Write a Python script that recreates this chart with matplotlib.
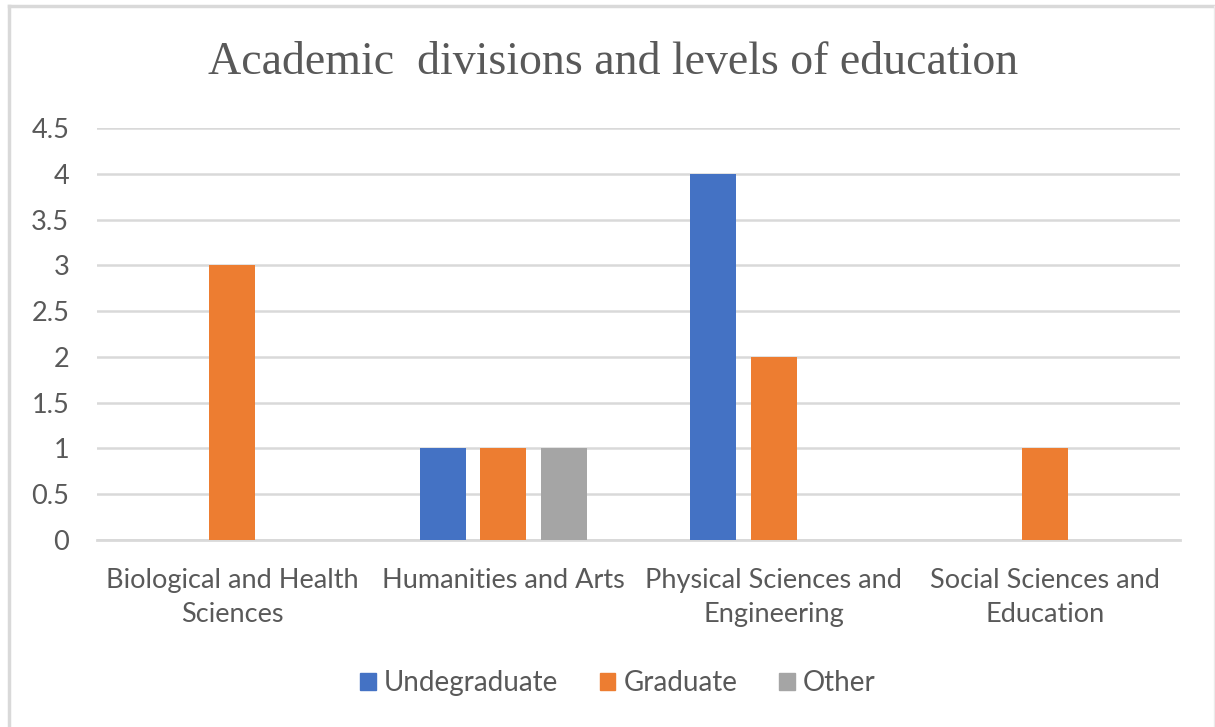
import numpy as np
import matplotlib.pyplot as plt
from matplotlib.lines import Line2D

categories = ['Biological and Health\nSciences', 'Humanities and Arts',
              'Physical Sciences and\nEngineering', 'Social Sciences and\nEducation']
series_names = ['Undegraduate', 'Graduate', 'Other']
undergraduate = [0, 1, 4, 0]
graduate = [3, 1, 2, 1]
other = [0, 1, 0, 0]
colors = ['#4472C4', '#ED7D31', '#A5A5A5']

grid_color = '#D9D9D9'
text_color = '#595959'

fig = plt.figure(figsize=(12.15, 7.27), dpi=100)
ax = fig.add_axes([97 / 1215, 1 - 540 / 727, (1180 - 97) / 1215, (540 - 128) / 727])

x = np.arange(len(categories))
step = 0.2235
width = 0.17
for i, (vals, name) in enumerate(zip([undergraduate, graduate, other], series_names)):
    ax.bar(x + (i - 1) * step, vals, width=width, color=colors[i], label=name, zorder=3)

ax.set_xlim(-0.5, len(categories) - 0.5)
ax.set_ylim(0, 4.5)
ax.set_yticks(np.arange(0, 4.51, 0.5))
ax.set_yticklabels(['0', '0.5', '1', '1.5', '2', '2.5', '3', '3.5', '4', '4.5'])
ax.set_xticks(x)
ax.set_xticklabels(categories, linespacing=1.45)

ax.grid(axis='y', color=grid_color, linewidth=1.8, zorder=0)
for s in ['top', 'right', 'left']:
    ax.spines[s].set_visible(False)
ax.spines['bottom'].set_color(grid_color)
ax.spines['bottom'].set_linewidth(2)
ax.tick_params(length=0, labelcolor=text_color, labelsize=19.5)
ax.tick_params(axis='y', pad=20)
ax.tick_params(axis='x', pad=20)
for lab in ax.get_xticklabels() + ax.get_yticklabels():
    lab.set_family('Lato')

fig.text(0.505, 1 - 63 / 727, 'Academic  divisions and levels of education',
         ha='center', va='center', fontsize=33, color=text_color,
         family='Liberation Serif')

handles = [plt.Rectangle((0, 0), 1, 1, color=c) for c in colors]
leg = fig.legend(handles, series_names, loc='center', ncol=3,
                 bbox_to_anchor=(618 / 1215, 1 - 683 / 727), frameon=False,
                 handlelength=0.55, handleheight=0.55, handletextpad=0.3,
                 columnspacing=1.5, prop={'family': 'Lato', 'size': 20})
for t in leg.get_texts():
    t.set_color(text_color)

# chart area frame
fig.add_artist(Line2D([8.5 / 1215, 8.5 / 1215], [0, 1 - 6 / 727],
                      transform=fig.transFigure, color=grid_color, linewidth=2.5))
fig.add_artist(Line2D([8.5 / 1215, 1213 / 1215], [1 - 6 / 727, 1 - 6 / 727],
                      transform=fig.transFigure, color=grid_color, linewidth=2.5))
fig.add_artist(Line2D([1213.5 / 1215, 1213.5 / 1215], [0, 1 - 6 / 727],
                      transform=fig.transFigure, color='#EBEBEB', linewidth=1))

fig.savefig('out.png', dpi=100, facecolor='white')
